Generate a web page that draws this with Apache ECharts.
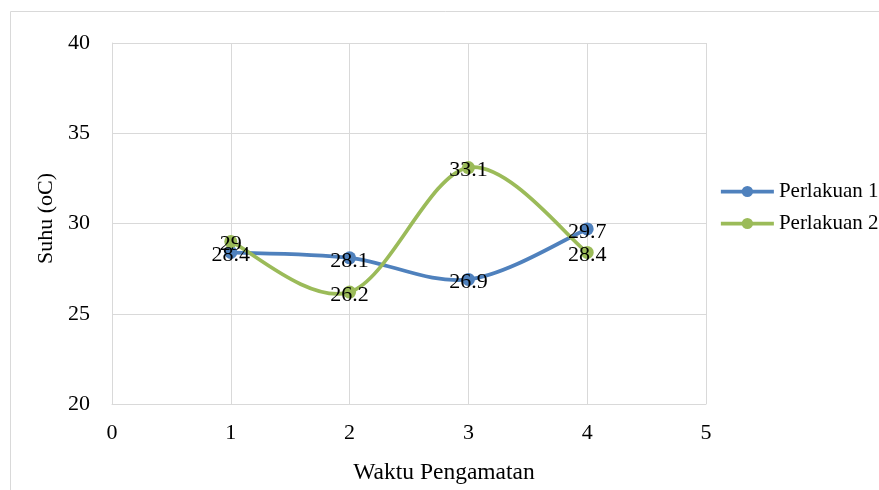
<!DOCTYPE html>
<html>
<head>
<meta charset="utf-8">
<script src="https://cdn.jsdelivr.net/npm/echarts@6/dist/echarts.min.js"></script>
<style>html,body{margin:0;padding:0;background:#fff;}#c{width:879px;height:490px;}</style>
</head>
<body>
<div id="c"></div>
<script>
const xValues = [1, 2, 3, 4];
const perlakuan1 = [28.4, 28.1, 26.9, 29.7];
const perlakuan2 = [29, 26.2, 33.1, 28.4];
const seriesNames = ['Perlakuan 1', 'Perlakuan 2'];
const xAxisTitle = 'Waktu Pengamatan';
const yAxisTitle = 'Suhu (oC)';

const font = 'Liberation Serif, Times New Roman, serif';
const colors = ['#4F81BD', '#9BBB59'];
const chart = echarts.init(document.getElementById('c'), null, {renderer: 'canvas'});
const pairs = arr => arr.map((v, i) => [xValues[i], v]);

// Excel-like smooth curve (Catmull-Rom style Bezier) drawn via the axes' scales
const curveSeries = (data, color) => ({
  type: 'custom',
  name: '_curve_' + color,
  data: pairs(data),
  encode: {x: 0, y: 1},
  z: 2,
  silent: true,
  animation: false,
  renderItem: function (params, api) {
    if (params.dataIndex !== 0) return null;
    const pts = pairs(data).map(d => api.coord(d));
    const n = pts.length;
    const children = [];
    for (let i = 0; i < n - 1; i++) {
      const p0 = pts[Math.max(i - 1, 0)], p1 = pts[i], p2 = pts[i + 1], p3 = pts[Math.min(i + 2, n - 1)];
      children.push({
        type: 'bezierCurve',
        shape: {
          x1: p1[0], y1: p1[1], x2: p2[0], y2: p2[1],
          cpx1: p1[0] + (p2[0] - p0[0]) / 6, cpy1: p1[1] + (p2[1] - p0[1]) / 6,
          cpx2: p2[0] - (p3[0] - p1[0]) / 6, cpy2: p2[1] - (p3[1] - p1[1]) / 6
        },
        style: {fill: 'none', stroke: color, lineWidth: 3.75, lineCap: 'round'}
      });
    }
    return {type: 'group', children: children};
  }
});

const markerSeries = (name, data, color) => ({
  name: name,
  type: 'line',
  data: pairs(data),
  z: 3,
  symbol: 'circle',
  symbolSize: 13,
  lineStyle: {width: 3.75, color: color, opacity: 0},
  itemStyle: {color: color},
  label: {show: true, position: 'inside', offset: [0, 3], color: '#000', fontFamily: font, fontSize: 22},
  emphasis: {disabled: true},
  animation: false
});

chart.setOption({
  animation: false,
  graphic: [{type: 'rect', shape: {x: 10.5, y: 11.5, width: 1000, height: 1000}, style: {fill: 'none', stroke: '#d9d9d9', lineWidth: 1}, silent: true}],
  grid: {left: 112, right: 173, top: 43, bottom: 85},
  legend: {
    orient: 'vertical', left: 719, top: 181, padding: 0,
    itemWidth: 53, itemHeight: 14, itemGap: 11,
    lineStyle: {width: 3.75, opacity: 1},
    textStyle: {fontFamily: font, fontSize: 21, color: '#000', lineHeight: 21},
    data: seriesNames
  },
  xAxis: {
    type: 'value', min: 0, max: 5, interval: 1,
    name: xAxisTitle, nameLocation: 'middle', nameGap: 57,
    nameTextStyle: {fontFamily: font, fontSize: 23.5, color: '#000', padding: [0, 0, 0, 70]},
    axisLine: {show: true, lineStyle: {color: '#d9d9d9', width: 1}},
    axisTick: {show: false},
    axisLabel: {fontFamily: font, fontSize: 22, color: '#000', margin: 18},
    splitLine: {show: true, lineStyle: {color: '#d9d9d9', width: 1}}
  },
  yAxis: {
    type: 'value', min: 20, max: 40, interval: 5,
    name: yAxisTitle, nameLocation: 'middle', nameGap: 55, nameRotate: 90,
    nameTextStyle: {fontFamily: font, fontSize: 22, color: '#000', padding: [0, 0, 0, 10]},
    axisLine: {show: true, lineStyle: {color: '#d9d9d9', width: 1}},
    axisTick: {show: false},
    axisLabel: {fontFamily: font, fontSize: 22, color: '#000', margin: 22},
    splitLine: {show: true, lineStyle: {color: '#d9d9d9', width: 1}}
  },
  series: [
    curveSeries(perlakuan1, colors[0]),
    curveSeries(perlakuan2, colors[1]),
    markerSeries(seriesNames[0], perlakuan1, colors[0]),
    markerSeries(seriesNames[1], perlakuan2, colors[1])
  ]
});
</script>
</body>
</html>
